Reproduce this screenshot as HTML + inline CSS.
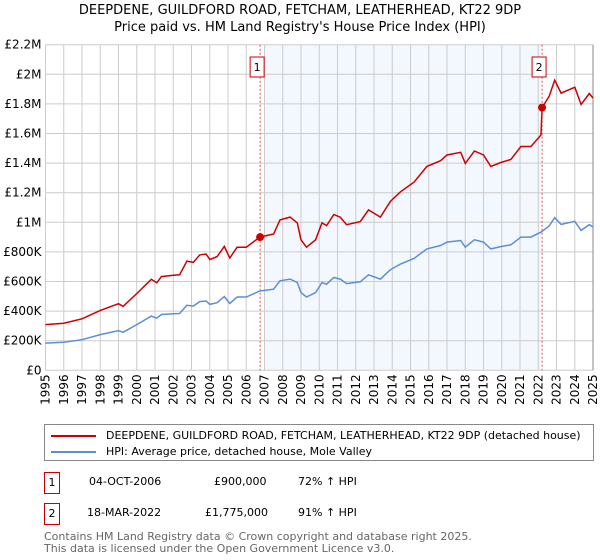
<!DOCTYPE html>
<html><head><meta charset="utf-8">
<style>
body{margin:0;background:#fff;font-family:"DejaVu Sans","Liberation Sans",sans-serif;}
#wrap{position:relative;width:600px;height:560px;overflow:hidden;}
.t{position:absolute;white-space:nowrap;color:#000;}
</style></head><body>
<div id="wrap">
<div class="t" style="left:0;width:600px;text-align:center;top:2px;font-size:13px;line-height:17px;">DEEPDENE, GUILDFORD ROAD, FETCHAM, LEATHERHEAD, KT22 9DP<br>Price paid vs. HM Land Registry's House Price Index (HPI)</div>
<svg id="chart" width="600" height="420" style="position:absolute;left:0;top:0"></svg>
<div style="position:absolute;left:44px;top:424px;width:550px;height:37px;border:1px solid #888;box-sizing:border-box;">
 <div style="position:absolute;left:6px;top:4px;font-size:11px;"><span style="display:inline-block;width:45px;height:2px;background:#cc0000;vertical-align:middle;margin-right:10px"></span>DEEPDENE, GUILDFORD ROAD, FETCHAM, LEATHERHEAD, KT22 9DP (detached house)</div>
 <div style="position:absolute;left:6px;top:20px;font-size:11px;"><span style="display:inline-block;width:45px;height:2px;background:#5b8ed6;vertical-align:middle;margin-right:10px"></span>HPI: Average price, detached house, Mole Valley</div>
</div>
<div>
 <div class="t" style="left:44px;top:472px;width:14px;height:20px;border:1px solid #cc0000;font-size:11px;text-align:center;line-height:20px;">1</div>
 <div class="t" style="left:89px;top:475px;font-size:11px;">04-OCT-2006</div>
 <div class="t" style="left:214px;top:475px;font-size:11px;">£900,000</div>
 <div class="t" style="left:298px;top:475px;font-size:11px;">72% ↑ HPI</div>
</div>
<div>
 <div class="t" style="left:44px;top:503px;width:14px;height:20px;border:1px solid #cc0000;font-size:11px;text-align:center;line-height:20px;">2</div>
 <div class="t" style="left:87px;top:506px;font-size:11px;">18-MAR-2022</div>
 <div class="t" style="left:205px;top:506px;font-size:11px;">£1,775,000</div>
 <div class="t" style="left:298px;top:506px;font-size:11px;">91% ↑ HPI</div>
</div>
<div class="t" style="left:44px;top:531px;font-size:11px;line-height:12px;color:#666;">Contains HM Land Registry data © Crown copyright and database right 2025.<br>This data is licensed under the Open Government Licence v3.0.</div>
</div>
<script>
const hpiYears=[1995,1996,1997,1998,1999,1999.25,2000,2000.8,2001.1,2001.35,2002,2002.35,2002.75,2003.1,2003.45,2003.8,2004,2004.4,2004.8,2005.1,2005.5,2006,2006.75,2007.5,2007.85,2008.4,2008.8,2009,2009.3,2009.8,2010.15,2010.4,2010.8,2011.15,2011.5,2012.25,2012.7,2013.35,2013.9,2014.45,2015.2,2015.9,2016.65,2017,2017.75,2018,2018.5,2019,2019.4,2019.95,2020.5,2021.05,2021.6,2022.15,2022.6,2022.9,2023.25,2024,2024.35,2024.8,2025];
const hpiValues=[184,189,207,241,268,257,309,366,352,377,382,384,439,434,464,468,445,457,498,452,495,495,536,548,605,616,593,525,495,525,593,582,627,616,586,598,645,616,680,718,757,820,843,866,877,832,882,866,820,836,848,900,900,934,975,1032,986,1007,945,984,968];
const priceYears=[1995,1996,1997,1998,1999,1999.25,2000,2000.8,2001.1,2001.35,2002,2002.35,2002.75,2003.1,2003.45,2003.8,2004,2004.4,2004.8,2005.1,2005.5,2006,2006.75,2007.5,2007.85,2008.4,2008.8,2009,2009.3,2009.8,2010.15,2010.4,2010.8,2011.15,2011.5,2012.25,2012.7,2013.35,2013.9,2014.45,2015.2,2015.9,2016.65,2017,2017.75,2018,2018.5,2019,2019.4,2019.95,2020.5,2021.05,2021.6,2022.15,2022.21,2022.6,2022.9,2023.25,2024,2024.35,2024.8,2025];
const priceValues=[309,318,348,405,450,432,519,615,591,633,642,645,738,729,780,786,748,768,837,759,832,832,900,921,1016,1035,996,882,832,882,996,978,1053,1035,984,1005,1084,1035,1142,1206,1272,1378,1416,1455,1473,1398,1482,1455,1378,1404,1425,1512,1512,1590,1775,1853,1960,1873,1913,1796,1870,1839];
const saleYears=[2006.76,2022.21];
const saleValues=[900,1775];
const saleLabels=["1","2"];
const yTicks=[0,200,400,600,800,1000,1200,1400,1600,1800,2000,2200];
const yTickLabels=["£0","£200K","£400K","£600K","£800K","£1M","£1.2M","£1.4M","£1.6M","£1.8M","£2M","£2.2M"];
const xTicks=[1995,1996,1997,1998,1999,2000,2001,2002,2003,2004,2005,2006,2007,2008,2009,2010,2011,2012,2013,2014,2015,2016,2017,2018,2019,2020,2021,2022,2023,2024,2025];

const L=45.5,R=593,T=44.7,B=370.3;
const X=y=>L+(y-1995)/30*(R-L);
const Y=v=>B-v/2200*(B-T);
const svg=document.getElementById('chart');
const NS='http://www.w3.org/2000/svg';
function mk(tag,attrs,parent){const e=document.createElementNS(NS,tag);for(const k in attrs)e.setAttribute(k,attrs[k]);(parent||svg).appendChild(e);return e;}

const shade=mk('rect',{x:X(2007),y:T,width:X(2022.15)-X(2007),height:B-T,fill:'#eef3fd',opacity:0.7});



const grid=mk('g',{});


yTicks.forEach((v,i)=>{
  mk('line',{x1:L,x2:R,y1:Y(v),y2:Y(v),stroke:'#cccccc','stroke-width':1},grid);
  const t=mk('text',{x:L-4,y:Y(v)+4,'text-anchor':'end','font-size':'12','font-family':'DejaVu Sans, sans-serif'});
  t.textContent=yTickLabels[i];
  
  
});
xTicks.forEach(yr=>{
  mk('line',{x1:X(yr),x2:X(yr),y1:T,y2:B,stroke:'#cccccc','stroke-width':1},grid);
  const t=mk('text',{x:0,y:0,'text-anchor':'end','font-size':'12','font-family':'DejaVu Sans, sans-serif',transform:`translate(${X(yr)+4},${B+4}) rotate(-90)`});
  t.textContent=String(yr);
  
  
});
mk('line',{x1:R,x2:R,y1:T,y2:B,stroke:'#888','stroke-width':1});

saleYears.forEach((yr,i)=>{
  const l=mk('line',{x1:X(yr),x2:X(yr),y1:T,y2:B,stroke:'#e05050','stroke-width':1,'stroke-dasharray':'2,2'});
  
  
});

function path(xs,vs){return xs.map((x,i)=>(i?'L':'M')+X(x).toFixed(1)+','+Y(vs[i]).toFixed(1)).join('');}
const hpi=mk('path',{d:path(hpiYears,hpiValues),fill:'none',stroke:'#5b8ed6','stroke-width':1.5});


const pr=mk('path',{d:path(priceYears,priceValues),fill:'none',stroke:'#cc0000','stroke-width':1.5});



saleYears.forEach((yr,i)=>{
  const c=mk('circle',{cx:X(yr),cy:Y(saleValues[i]),r:4,fill:'#cc0000'});
  
  
  const g=mk('g',{});
  
  
  mk('rect',{x:X(yr)-10,y:57,width:14,height:20,fill:'#fff',stroke:'#cc0000','stroke-width':1},g);
  const t=mk('text',{x:X(yr)-3,y:71,'text-anchor':'middle','font-size':'11','font-family':'DejaVu Sans, sans-serif'},g);
  t.textContent=saleLabels[i];
});
</script>
</body></html>
